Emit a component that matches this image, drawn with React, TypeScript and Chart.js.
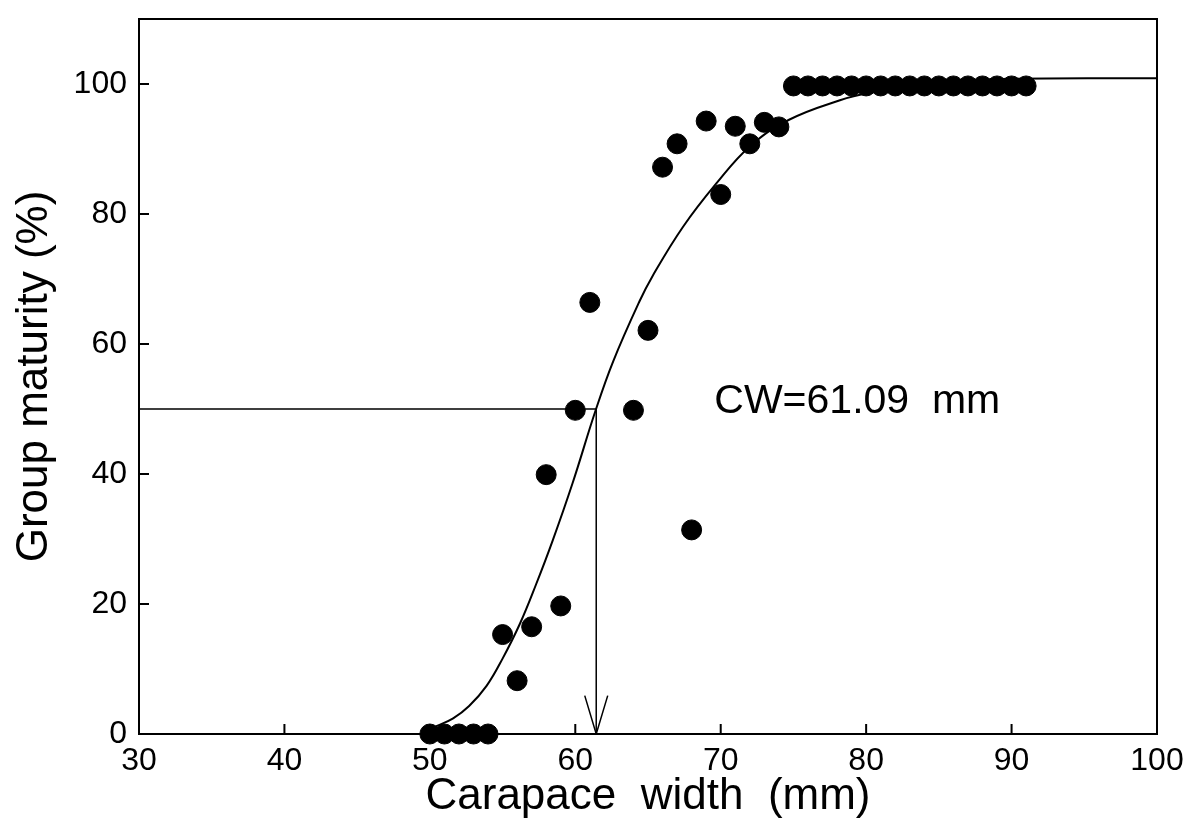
import React, { useEffect, useRef } from "react";
import { Chart, registerables } from "chart.js";

Chart.register(...registerables);

// Observed points: carapace width (mm) vs group maturity (%)
const obsWidth = [
  50, 51, 52, 53, 54, 55, 56, 57, 58, 59, 60, 61, 64, 65, 66, 67, 68, 69, 70, 71, 72, 73, 74,
  75, 76, 77, 78, 79, 80, 81, 82, 83, 84, 85, 86, 87, 88, 89, 90, 91,
];
const obsMaturity = [
  0, 0, 0, 0, 0, 15.3, 8.2, 16.5, 39.9, 19.7, 49.8, 66.4, 49.8, 62.1, 87.2, 90.8, 31.4, 94.3, 83, 93.5, 90.8, 94.1, 93.4,
  99.7, 99.7, 99.7, 99.7, 99.7, 99.7, 99.7, 99.7, 99.7, 99.7, 99.7, 99.7, 99.7, 99.7, 99.7, 99.7, 99.7,
];

// Fitted maturity curve
const curveWidth = [49.8, 50.45, 51.6, 52.7, 53.9, 55.0, 56.2, 57.3, 58.45, 59.8, 61.4, 62.6, 64.4, 65.3, 67.4, 69.7, 72.0, 74.7, 78.2, 80.2, 85, 90, 100];
const curveMaturity = [0.4, 1.2, 2.4, 4.3, 7.4, 11.6, 17.0, 23.0, 29.8, 38.5, 49.8, 57.3, 66.5, 70.4, 78.0, 84.7, 90.4, 94.5, 97.5, 98.6, 100.2, 100.8, 100.9];

// 50% maturity guide
const cw50 = 61.44;
const guideX = [30, cw50, cw50];
const guideY = [50, 50, 0];
const arrowX = [cw50 - 0.79, cw50, cw50 + 0.79];
const arrowY = [5.9, 0, 5.9];

const xTicks = [30, 40, 50, 60, 70, 80, 90, 100];
const yTicks = [0, 20, 40, 60, 80, 100];

const annotationText = "CW=61.09  mm";
const annotationX = 69.56;
const annotationY = 51.1;

const FONT = "'Liberation Sans', Arial, sans-serif";

const zip = (xs: number[], ys: number[]) => xs.map((x, i) => ({ x, y: ys[i] }));

const framePlugin = {
  id: "framePlugin",
  afterDatasetsDraw(chart: any) {
    const { ctx, chartArea } = chart;
    const xs = chart.scales.x;
    const ys = chart.scales.y;
    ctx.save();
    ctx.strokeStyle = "#000";
    ctx.lineWidth = 2;
    ctx.strokeRect(chartArea.left, chartArea.top, chartArea.right - chartArea.left, chartArea.bottom - chartArea.top);
    ctx.beginPath();
    yTicks.forEach((v) => {
      const py = ys.getPixelForValue(v);
      ctx.moveTo(chartArea.left, py);
      ctx.lineTo(chartArea.left + 10, py);
    });
    xTicks.forEach((v) => {
      const px = xs.getPixelForValue(v);
      ctx.moveTo(px, chartArea.bottom);
      ctx.lineTo(px, chartArea.bottom - 10);
    });
    ctx.stroke();
    ctx.fillStyle = "#000";
    ctx.font = `41px ${FONT}`;
    ctx.textAlign = "left";
    ctx.textBaseline = "middle";
    ctx.fillText(annotationText, xs.getPixelForValue(annotationX), ys.getPixelForValue(annotationY));
    ctx.restore();
  },
};

export default function App() {
  const ref = useRef<HTMLCanvasElement | null>(null);
  useEffect(() => {
    if (!ref.current) return;
    const chart = new Chart(ref.current, {
      type: "scatter",
      data: {
        datasets: [
          {
            data: zip(obsWidth, obsMaturity),
            backgroundColor: "#000",
            borderColor: "#000",
            pointRadius: 10,
            pointHoverRadius: 10,
            clip: false,
          } as any,
          {
            data: zip(curveWidth, curveMaturity),
            showLine: true,
            borderColor: "#000",
            borderWidth: 2,
            pointRadius: 0,
            tension: 0.4,
          } as any,
          {
            data: zip(guideX, guideY),
            showLine: true,
            borderColor: "#000",
            borderWidth: 1.5,
            pointRadius: 0,
          } as any,
          {
            data: zip(arrowX, arrowY),
            showLine: true,
            borderColor: "#000",
            borderWidth: 1.5,
            pointRadius: 0,
          } as any,
        ],
      },
      options: {
        animation: false,
        responsive: false,
        devicePixelRatio: 1,
        layout: { padding: { left: 0, top: 19, right: 26, bottom: 0 } },
        plugins: { legend: { display: false }, tooltip: { enabled: false } },
        scales: {
          x: {
            type: "linear",
            min: 30,
            max: 100,
            afterBuildTicks: (s: any) => {
              s.ticks = xTicks.map((v) => ({ value: v }));
            },
            afterFit: (s: any) => {
              s.height = 99;
              s.paddingLeft = 0;
              s.paddingRight = 0;
            },
            grid: { display: false, drawTicks: false },
            border: { display: false },
            ticks: { color: "#000", font: { size: 32, family: FONT }, padding: 8, maxRotation: 0, autoSkip: false },
            title: {
              display: true,
              text: "Carapace  width  (mm)",
              color: "#000",
              font: { size: 44, family: FONT },
              padding: { top: 0, bottom: 10 },
            },
          },
          y: {
            type: "linear",
            min: 0,
            max: 110,
            afterBuildTicks: (s: any) => {
              s.ticks = yTicks.map((v) => ({ value: v }));
            },
            afterFit: (s: any) => {
              s.width = 139;
              s.paddingTop = 0;
              s.paddingBottom = 0;
            },
            grid: { display: false, drawTicks: false },
            border: { display: false },
            ticks: { color: "#000", font: { size: 32, family: FONT }, padding: 12 },
            title: {
              display: true,
              text: "Group maturity (%)",
              color: "#000",
              font: { size: 44, family: FONT },
              padding: { top: 8, bottom: 0 },
            },
          },
        },
      },
      plugins: [framePlugin],
    });
    return () => chart.destroy();
  }, []);
  return (
    <div style={{ position: "fixed", left: 0, top: 0, width: 1183, height: 833, background: "#fff" }}>
      <canvas ref={ref} width={1183} height={833} />
    </div>
  );
}
